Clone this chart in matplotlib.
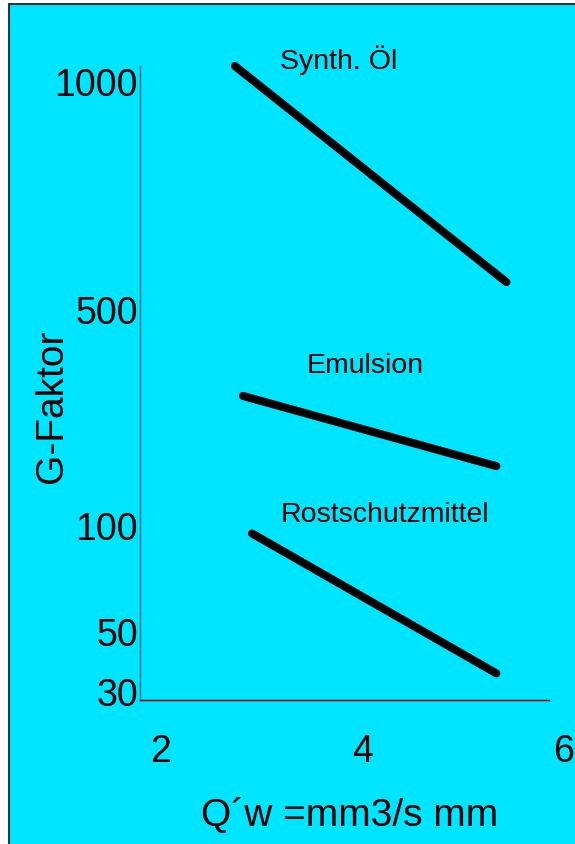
import numpy as np
import matplotlib
matplotlib.use("Agg")
from matplotlib import pyplot as plt
from matplotlib.patches import Rectangle

# data
series_names = ["Synth. Öl", "Emulsion", "Rostschutzmittel"]
synth_x = [2.74, 5.43]
synth_y = [1034, 559]
emulsion_x = [2.82, 5.33]
emulsion_y = [339, 209]
rost_x = [2.91, 5.33]
rost_y = [96, 36]

x_ticks = [2, 4, 6]
y_ticks = [30, 50, 100, 500, 1000]

# the y axis is hand-spaced, not log: where each tick sits (pixels above x axis)
y_tick_pos = [8.5, 69, 175, 391, 618.5]

BG = "#00e5ff"
plt.rcParams["font.family"] = ["Liberation Sans", "DejaVu Sans"]


def _ext(v, xs, ys):
    v = np.asarray(v, dtype=float)
    out = np.interp(v, xs, ys)
    lo = (ys[1] - ys[0]) / (xs[1] - xs[0])
    hi = (ys[-1] - ys[-2]) / (xs[-1] - xs[-2])
    out = np.where(v < xs[0], ys[0] + (v - xs[0]) * lo, out)
    out = np.where(v > xs[-1], ys[-1] + (v - xs[-1]) * hi, out)
    return out


def forward(v):
    return _ext(v, y_ticks, y_tick_pos)


def inverse(p):
    return _ext(p, y_tick_pos, y_ticks)


fig = plt.figure(figsize=(5.75, 8.45), dpi=100)
fig.patch.set_facecolor("white")

# cyan panel with thin dark frame
fig.patches.append(Rectangle((9 / 575, -0.01), 1.0, 1 - 5 / 845 + 0.01,
                             transform=fig.transFigure, facecolor=BG,
                             edgecolor="#333333", linewidth=1.5, zorder=-10))

ax = fig.add_axes([140 / 575, 144 / 845, 424 / 575, 634 / 845])
ax.set_facecolor("none")
ax.set_yscale("function", functions=(forward, inverse))
ax.set_xlim(1.8, 6.0)
ax.set_ylim(float(inverse(0)), float(inverse(634)))

for xs, ys in [(synth_x, synth_y), (emulsion_x, emulsion_y), (rost_x, rost_y)]:
    ax.plot(xs, ys, color="black", linewidth=5.8, solid_capstyle="round",
            clip_on=False)

# curve labels
ax.text(3.19, 1030, series_names[0], fontsize=20.5, va="baseline")
ax.text(3.45, 383, series_names[1], fontsize=20.5, va="baseline")
ax.text(3.19, 107, series_names[2], fontsize=20.5, va="baseline")

ax.set_xticks(x_ticks)
ax.set_yticks(y_ticks)
ax.set_xticklabels([str(t) for t in x_ticks])
ax.set_yticklabels([str(t) for t in y_ticks])
ax.tick_params(axis="both", length=0, labelsize=27)
ax.tick_params(axis="x", pad=24)
ax.tick_params(axis="y", pad=1.5)

for s in ["top", "right"]:
    ax.spines[s].set_visible(False)
ax.spines["left"].set_color("#1f6f7f")
ax.spines["left"].set_linewidth(1.0)
ax.spines["bottom"].set_color("black")
ax.spines["bottom"].set_linewidth(1.0)
ax.spines["bottom"].set_bounds(1.8, 5.85)

fig.text(52 / 575, 1 - 406 / 845, "G-Faktor", rotation=90, fontsize=28,
         ha="center", va="center")
fig.text(350 / 575, 1 - 826 / 845, "Q\u00b4w =mm3/s mm", fontsize=28,
         ha="center", va="baseline")

fig.savefig("out.png", dpi=100, facecolor=fig.get_facecolor())
